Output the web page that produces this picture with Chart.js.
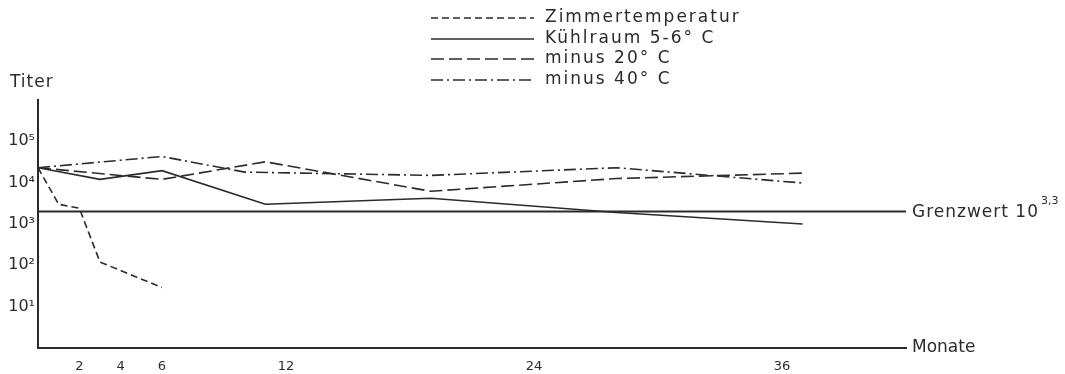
<!DOCTYPE html>
<html>
<head>
<meta charset="utf-8">
<script src="https://cdn.jsdelivr.net/npm/chart.js@4.4.1/dist/chart.umd.min.js"></script>
<style>
    html, body { margin: 0; padding: 0; background: #fff; }
    #wrap { width: 1065px; height: 374px; position: relative; }
</style>
</head>
<body>
<div id="wrap"><canvas id="chart"></canvas></div>
<script>
// Values (titer over months of storage)
const seriesNames = ['Zimmertemperatur', 'Kühlraum 5-6° C', 'minus 20° C', 'minus 40° C'];
const roomMonths = [0, 1, 2, 3, 6];
const roomTiter = [23000, 3000, 2400, 120, 29];
const coldMonths = [0, 3, 6, 11, 19, 28, 37];
const coldTiter = [23000, 12000, 19500, 3000, 4200, 1900, 1000];
const minus20Months = [0, 6, 11, 19, 28, 37];
const minus20Titer = [23000, 12000, 32000, 6200, 12600, 17000];
const minus40Months = [0, 6, 10, 19, 28, 37];
const minus40Titer = [23000, 43000, 18000, 15000, 23000, 9800];
const monthTicks = [2, 4, 6, 12, 24, 36];
const titerTicks = [10, 100, 1000, 10000, 100000];
const grenzwert = 1995; // 10^3,3
const grenzMonths = [0, 42];

const ink = '#2b2b2b';
const dashes = [[7, 4], [], [13, 5], [12, 4, 2, 4]];
const sup = { 1: '¹', 2: '²', 3: '³', 4: '⁴', 5: '⁵' };

function toPoints(xs, ys) {
    return xs.map(function(x, i) { return { x: x, y: ys[i] }; });
}

const seriesData = [
    toPoints(roomMonths, roomTiter),
    toPoints(coldMonths, coldTiter),
    toPoints(minus20Months, minus20Titer),
    toPoints(minus40Months, minus40Titer)
];

const datasets = seriesData.map(function(pts, i) {
    return {
        label: seriesNames[i],
        data: pts,
        borderColor: ink,
        borderWidth: 1.6,
        borderDash: dashes[i],
        pointRadius: 0,
        tension: 0,
        fill: false
    };
});

// horizontal limit line
datasets.push({
    label: 'Grenzwert',
    data: grenzMonths.map(function(m) { return { x: m, y: grenzwert }; }),
    borderColor: ink,
    borderWidth: 2,
    pointRadius: 0,
    fill: false
});

// Legend and free text drawn on top
const annotations = {
    id: 'annotations',
    afterDraw: function(chart) {
        const ctx = chart.ctx;
        const area = chart.chartArea;
        const yScale = chart.scales.y;
        ctx.save();
        ctx.fillStyle = ink;
        ctx.strokeStyle = ink;
        ctx.textBaseline = 'middle';
        ctx.font = '17px "DejaVu Sans"';
        ctx.letterSpacing = '2px';

        // legend
        const rows = [18, 39, 59, 80];
        for (let i = 0; i < 4; i++) {
            ctx.beginPath();
            ctx.lineWidth = 1.6;
            ctx.setLineDash(dashes[i]);
            ctx.moveTo(431, rows[i]);
            ctx.lineTo(534, rows[i]);
            ctx.stroke();
            ctx.fillText(seriesNames[i], 545, rows[i]);
        }
        ctx.setLineDash([]);

        ctx.letterSpacing = '1px';
        ctx.fillText('Titer', 10, 83);
        ctx.letterSpacing = '0px';
        ctx.fillText('Monate', 912, area.bottom);

        const gy = yScale.getPixelForValue(grenzwert);
        ctx.letterSpacing = '1px';
        ctx.fillText('Grenzwert 10', 912, gy + 1);
        const w = ctx.measureText('Grenzwert 10').width;
        ctx.font = '11px "DejaVu Sans"';
        ctx.letterSpacing = '0px';
        ctx.fillText('3,3', 912 + w + 2, gy - 10);
        ctx.restore();
    }
};

const ctx = document.getElementById('chart').getContext('2d');
new Chart(ctx, {
    type: 'line',
    data: { datasets: datasets },
    plugins: [annotations],
    options: {
        responsive: true,
        maintainAspectRatio: false,
        animation: false,
        layout: {
            padding: { top: 100, right: 159, left: 0, bottom: 0 }
        },
        plugins: {
            legend: { display: false },
            tooltip: { enabled: false }
        },
        scales: {
            x: {
                type: 'linear',
                min: 0,
                max: 42,
                grid: { display: false },
                border: { display: true, color: ink, width: 2 },
                afterBuildTicks: function(scale) {
                    scale.ticks = monthTicks.map(function(v) { return { value: v }; });
                },
                afterFit: function(scale) {
                    scale.height = 26;
                },
                ticks: {
                    color: ink,
                    padding: 3,
                    maxRotation: 0,
                    autoSkip: false,
                    font: { family: 'DejaVu Sans', size: 13 }
                }
            },
            y: {
                type: 'logarithmic',
                min: 1,
                max: 1000000,
                grid: { display: false },
                border: { display: true, color: ink, width: 2 },
                afterBuildTicks: function(scale) {
                    scale.ticks = titerTicks.map(function(v) { return { value: v }; });
                },
                afterFit: function(scale) {
                    scale.width = 38;
                },
                ticks: {
                    color: ink,
                    padding: -5,
                    autoSkip: false,
                    font: { family: 'DejaVu Sans', size: 16 },
                    callback: function(value) {
                        const e = Math.round(Math.log10(value));
                        return '10' + sup[e];
                    }
                }
            }
        }
    }
});
</script>
</body>
</html>
